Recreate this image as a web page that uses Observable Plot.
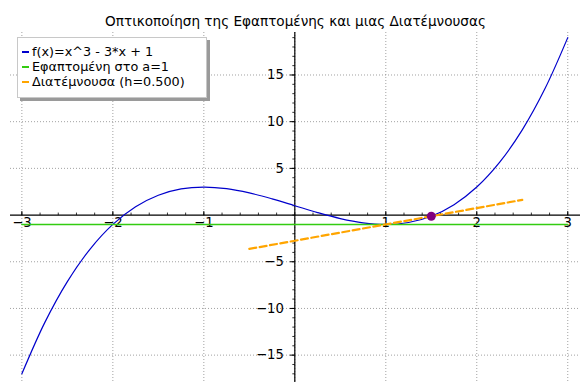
<!DOCTYPE html>
<html>
<head>
<meta charset="utf-8">
<script src="https://cdn.jsdelivr.net/npm/d3@7"></script>
<script src="https://cdn.jsdelivr.net/npm/@observablehq/plot@0.6"></script>
<style>
  body { margin: 0; background: white; }
  #wrap { position: relative; width: 588px; height: 390px; font-family: "DejaVu Sans", sans-serif; }
  #legend { position: absolute; left: 17px; top: 37px; width: 190px; height: 61px; background: white;
            border: 1px solid #c8c8c8; box-shadow: 3px 3px 0 #9a9a9a; box-sizing: border-box; }
  .row { position: absolute; left: 0; height: 14px; line-height: 14px; font-size: 12.8px; white-space: nowrap; color: #000; }
  .row .t { position: absolute; left: 14px; top: 0; }
  .row .h { position: absolute; left: 4px; top: 6.5px; width: 7px; height: 1.6px; }
</style>
</head>
<body>
<div id="wrap"></div>
<script>
const title = "Οπτικοποίηση της Εφαπτομένης και μιας Διατέμνουσας";
const seriesNames = ["f(x)=x^3 - 3*x + 1", "Εφαπτομένη στο a=1", "Διατέμνουσα (h=0.500)"];
const seriesColors = ["#0000cc", "#33cc11", "#ffa500"];

// f(x) samples
const curveX = [-3, -2.75, -2.5, -2.25, -2, -1.75, -1.5, -1.25, -1, -0.75, -0.5, -0.25, 0,
                0.25, 0.5, 0.75, 1, 1.25, 1.5, 1.75, 2, 2.25, 2.5, 2.75, 3];
const curveY = [-17, -11.546875, -7.125, -3.640625, -1, 0.890625, 2.125, 2.796875, 3, 2.828125, 2.375, 1.734375, 1,
                0.265625, -0.375, -0.828125, -1, -0.796875, -0.125, 1.109375, 3, 5.640625, 9.125, 13.546875, 19];
// tangent at a=1
const tangentX = [-3, 3];
const tangentY = [-1, -1];
// secant through a=1 and a+h=1.5
const secantX = [-0.5, 2.5];
const secantY = [-3.625, 1.625];
// highlighted point
const pointX = [1.5];
const pointY = [-0.125];

// ticks
const xTicks = [-3, -2, -1, 1, 2, 3];
const yTicks = [-15, -10, -5, 5, 10, 15];
const xGrid = [-3, -2, -1, 0, 1, 2, 3];
const xMinor = d3.range(-15, 16).map(i => i / 5);
const yMinor = d3.range(-17, 20);

const fmt = d => d < 0 ? "\u2212" + Math.abs(d) : String(d);
const curve = curveX.map((x, i) => ({x, y: curveY[i]}));
const tangent = tangentX.map((x, i) => ({x, y: tangentY[i]}));
const secant = secantX.map((x, i) => ({x, y: secantY[i]}));
const point = pointX.map((x, i) => ({x, y: pointY[i]}));

const tickUp = {draw(ctx, size) { const l = Math.sqrt(size / Math.PI); ctx.moveTo(0, 0); ctx.lineTo(0, -l); }};
const tickLeft = {draw(ctx, size) { const l = Math.sqrt(size / Math.PI); ctx.moveTo(0, 0); ctx.lineTo(-l, 0); }};

const grid = {stroke: "#8a8a8a", strokeWidth: 0.8, strokeDasharray: "1,2"};

const chart = Plot.plot({
  width: 588, height: 390,
  marginLeft: 10, marginRight: 8, marginTop: 32, marginBottom: 8,
  x: {domain: [-3.125, 3.14], axis: null},
  y: {domain: [-17.93, 19.55], axis: null},
  style: {fontFamily: "DejaVu Sans", fontSize: "13px", background: "white", color: "black"},
  marks: [
    Plot.ruleX(xGrid, grid),
    Plot.ruleY(yTicks, grid),
    Plot.ruleY([0], {stroke: "black", strokeWidth: 1.2}),
    Plot.ruleX([0], {stroke: "black", strokeWidth: 1.2}),
    Plot.dot(xMinor, {x: d => d, y: () => 0, symbol: tickUp, r: 2.5, stroke: "black", fill: "none", strokeWidth: 0.8}),
    Plot.dot(xTicks, {x: d => d, y: () => 0, symbol: tickUp, r: 4, stroke: "black", fill: "none", strokeWidth: 1}),
    Plot.dot(yMinor, {x: () => 0, y: d => d, symbol: tickLeft, r: 2.5, stroke: "black", fill: "none", strokeWidth: 0.8}),
    Plot.dot(yTicks, {x: () => 0, y: d => d, symbol: tickLeft, r: 5, stroke: "black", fill: "none", strokeWidth: 1}),
    Plot.text(xTicks, {x: d => d, y: () => 0, text: fmt, lineAnchor: "top", dy: 3, fontSize: 13.2}),
    Plot.text(yTicks, {x: () => 0, y: d => d, text: fmt, textAnchor: "end", dx: -11, fontSize: 13.2}),
    Plot.line(curve, {x: "x", y: "y", stroke: seriesColors[0], strokeWidth: 1.2, curve: "catmull-rom"}),
    Plot.line(tangent, {x: "x", y: "y", stroke: seriesColors[1], strokeWidth: 1.5}),
    Plot.line(secant, {x: "x", y: "y", stroke: seriesColors[2], strokeWidth: 2.2, strokeDasharray: "7,3.5"}),
    Plot.dot(point, {x: "x", y: "y", r: 4.5, fill: "#800080", stroke: "none"}),
    Plot.text([title], {frameAnchor: "top", dy: -16, fontSize: 13.6})
  ]
});

const wrap = document.getElementById("wrap");
wrap.appendChild(chart);
const legend = document.createElement("div");
legend.id = "legend";
seriesNames.forEach((name, i) => {
  const row = document.createElement("div");
  row.className = "row";
  row.style.top = (6.5 + i * 15) + "px";
  const h = document.createElement("div");
  h.className = "h";
  h.style.background = seriesColors[i];
  const t = document.createElement("div");
  t.className = "t";
  t.textContent = name;
  row.appendChild(h);
  row.appendChild(t);
  legend.appendChild(row);
});
wrap.appendChild(legend);
</script>
</body>
</html>
